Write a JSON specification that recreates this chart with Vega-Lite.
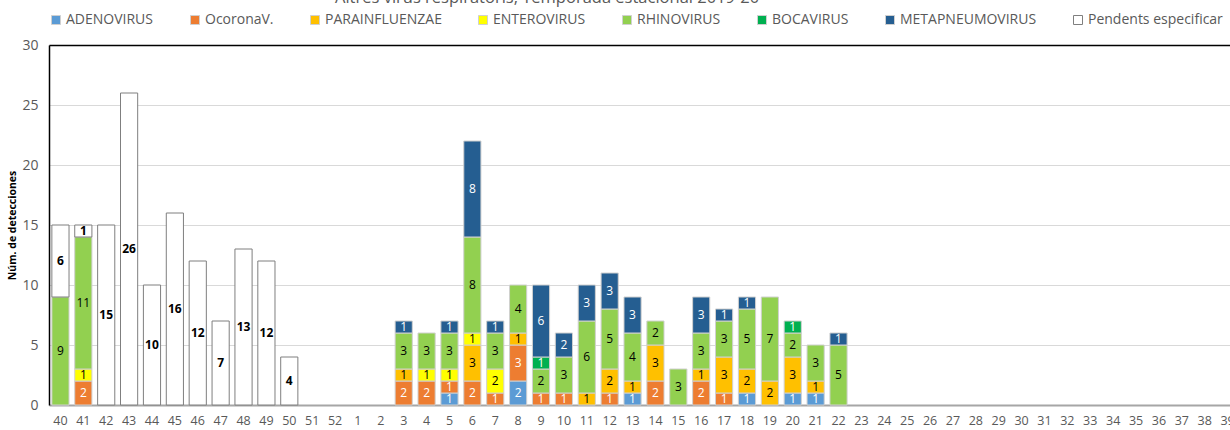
{
  "$schema": "https://vega.github.io/schema/vega-lite/v6.json",
  "autosize": {"type": "none"},
  "width": 1181,
  "height": 360,
  "padding": {"left": 49, "top": 45, "right": 0, "bottom": 25},
  "background": "white",
  "title": {"text": "Altres virus respiratoris, Temporada estacional 2019-20", "anchor": "start", "frame": "group", "dx": 286, "dy": -3, "fontSize": 16.5, "font": "Open Sans", "fontWeight": "normal", "color": "#595959"},
  "config": {"view": {"stroke": null}, "font": "Open Sans"},
  "datasets": {
    "cats": [
      {"c": "ADENOVIRUS", "k": 1}, {"c": "OcoronaV.", "k": 2}, {"c": "PARAINFLUENZAE", "k": 3}, {"c": "ENTEROVIRUS", "k": 4},
      {"c": "RHINOVIRUS", "k": 5}, {"c": "BOCAVIRUS", "k": 6}, {"c": "METAPNEUMOVIRUS", "k": 7}, {"c": "Pendents especificar", "k": 8}
    ]
  },
  "data": {"values": [
    {"w": "40", "c": "RHINOVIRUS", "v": 9}, {"w": "40", "c": "Pendents especificar", "v": 6},
    {"w": "41", "c": "OcoronaV.", "v": 2}, {"w": "41", "c": "ENTEROVIRUS", "v": 1}, {"w": "41", "c": "RHINOVIRUS", "v": 11}, {"w": "41", "c": "Pendents especificar", "v": 1},
    {"w": "42", "c": "Pendents especificar", "v": 15},
    {"w": "43", "c": "Pendents especificar", "v": 26},
    {"w": "44", "c": "Pendents especificar", "v": 10},
    {"w": "45", "c": "Pendents especificar", "v": 16},
    {"w": "46", "c": "Pendents especificar", "v": 12},
    {"w": "47", "c": "Pendents especificar", "v": 7},
    {"w": "48", "c": "Pendents especificar", "v": 13},
    {"w": "49", "c": "Pendents especificar", "v": 12},
    {"w": "50", "c": "Pendents especificar", "v": 4},
    {"w": "3", "c": "OcoronaV.", "v": 2}, {"w": "3", "c": "PARAINFLUENZAE", "v": 1}, {"w": "3", "c": "RHINOVIRUS", "v": 3}, {"w": "3", "c": "METAPNEUMOVIRUS", "v": 1},
    {"w": "4", "c": "OcoronaV.", "v": 2}, {"w": "4", "c": "ENTEROVIRUS", "v": 1}, {"w": "4", "c": "RHINOVIRUS", "v": 3},
    {"w": "5", "c": "ADENOVIRUS", "v": 1}, {"w": "5", "c": "OcoronaV.", "v": 1}, {"w": "5", "c": "ENTEROVIRUS", "v": 1}, {"w": "5", "c": "RHINOVIRUS", "v": 3}, {"w": "5", "c": "METAPNEUMOVIRUS", "v": 1},
    {"w": "6", "c": "OcoronaV.", "v": 2}, {"w": "6", "c": "PARAINFLUENZAE", "v": 3}, {"w": "6", "c": "ENTEROVIRUS", "v": 1}, {"w": "6", "c": "RHINOVIRUS", "v": 8}, {"w": "6", "c": "METAPNEUMOVIRUS", "v": 8},
    {"w": "7", "c": "OcoronaV.", "v": 1}, {"w": "7", "c": "ENTEROVIRUS", "v": 2}, {"w": "7", "c": "RHINOVIRUS", "v": 3}, {"w": "7", "c": "METAPNEUMOVIRUS", "v": 1},
    {"w": "8", "c": "ADENOVIRUS", "v": 2}, {"w": "8", "c": "OcoronaV.", "v": 3}, {"w": "8", "c": "PARAINFLUENZAE", "v": 1}, {"w": "8", "c": "RHINOVIRUS", "v": 4},
    {"w": "9", "c": "OcoronaV.", "v": 1}, {"w": "9", "c": "RHINOVIRUS", "v": 2}, {"w": "9", "c": "BOCAVIRUS", "v": 1}, {"w": "9", "c": "METAPNEUMOVIRUS", "v": 6},
    {"w": "10", "c": "OcoronaV.", "v": 1}, {"w": "10", "c": "RHINOVIRUS", "v": 3}, {"w": "10", "c": "METAPNEUMOVIRUS", "v": 2},
    {"w": "11", "c": "PARAINFLUENZAE", "v": 1}, {"w": "11", "c": "RHINOVIRUS", "v": 6}, {"w": "11", "c": "METAPNEUMOVIRUS", "v": 3},
    {"w": "12", "c": "OcoronaV.", "v": 1}, {"w": "12", "c": "PARAINFLUENZAE", "v": 2}, {"w": "12", "c": "RHINOVIRUS", "v": 5}, {"w": "12", "c": "METAPNEUMOVIRUS", "v": 3},
    {"w": "13", "c": "ADENOVIRUS", "v": 1}, {"w": "13", "c": "PARAINFLUENZAE", "v": 1}, {"w": "13", "c": "RHINOVIRUS", "v": 4}, {"w": "13", "c": "METAPNEUMOVIRUS", "v": 3},
    {"w": "14", "c": "OcoronaV.", "v": 2}, {"w": "14", "c": "PARAINFLUENZAE", "v": 3}, {"w": "14", "c": "RHINOVIRUS", "v": 2},
    {"w": "15", "c": "RHINOVIRUS", "v": 3},
    {"w": "16", "c": "OcoronaV.", "v": 2}, {"w": "16", "c": "PARAINFLUENZAE", "v": 1}, {"w": "16", "c": "RHINOVIRUS", "v": 3}, {"w": "16", "c": "METAPNEUMOVIRUS", "v": 3},
    {"w": "17", "c": "OcoronaV.", "v": 1}, {"w": "17", "c": "PARAINFLUENZAE", "v": 3}, {"w": "17", "c": "RHINOVIRUS", "v": 3}, {"w": "17", "c": "METAPNEUMOVIRUS", "v": 1},
    {"w": "18", "c": "ADENOVIRUS", "v": 1}, {"w": "18", "c": "PARAINFLUENZAE", "v": 2}, {"w": "18", "c": "RHINOVIRUS", "v": 5}, {"w": "18", "c": "METAPNEUMOVIRUS", "v": 1},
    {"w": "19", "c": "PARAINFLUENZAE", "v": 2}, {"w": "19", "c": "RHINOVIRUS", "v": 7},
    {"w": "20", "c": "ADENOVIRUS", "v": 1}, {"w": "20", "c": "PARAINFLUENZAE", "v": 3}, {"w": "20", "c": "RHINOVIRUS", "v": 2}, {"w": "20", "c": "BOCAVIRUS", "v": 1},
    {"w": "21", "c": "ADENOVIRUS", "v": 1}, {"w": "21", "c": "PARAINFLUENZAE", "v": 1}, {"w": "21", "c": "RHINOVIRUS", "v": 3},
    {"w": "22", "c": "RHINOVIRUS", "v": 5}, {"w": "22", "c": "METAPNEUMOVIRUS", "v": 1}
  ]},
  "transform": [
    {"lookup": "c", "from": {"data": {"name": "cats"}, "key": "c", "fields": ["k"]}}
  ],
  "layer": [
    {
      "mark": {"type": "bar", "strokeWidth": 1},
      "encoding": {
        "x": {"field": "w", "type": "ordinal",
          "scale": {"domain": ["40","41","42","43","44","45","46","47","48","49","50","51","52","1","2","3","4","5","6","7","8","9","10","11","12","13","14","15","16","17","18","19","20","21","22","23","24","25","26","27","28","29","30","31","32","33","34","35","36","37","38","39"], "range": [0, 1190], "paddingInner": 0.25, "paddingOuter": 0.125},
          "axis": {"title": null, "labelAngle": 0, "labelFontSize": 12.5, "labelColor": "#595959", "ticks": false, "domainColor": "#a6a6a6", "domainWidth": 2, "labelPadding": 9}},
        "y": {"field": "v", "type": "quantitative", "stack": "zero",
          "scale": {"domain": [0, 30], "nice": false},
          "axis": {"values": [0, 5, 10, 15, 20, 25, 30], "title": "Núm. de detecciones", "titleFontSize": 10.5, "titleFontWeight": "bold", "titleColor": "#000000", "titlePadding": 4,
            "labelFontSize": 14, "labelColor": "#595959", "labelPadding": 11, "ticks": false, "domainColor": "#000000", "domainWidth": 1.5,
            "grid": true, "gridColor": {"condition": {"test": "datum.value === 30", "value": "#000000"}, "value": "#d9d9d9"},
            "gridWidth": {"condition": {"test": "datum.value === 30", "value": 1.5}, "value": 1}}},
        "order": {"field": "k", "type": "quantitative", "sort": "ascending"},
        "fill": {"field": "c", "type": "nominal",
          "scale": {"domain": ["ADENOVIRUS","OcoronaV.","PARAINFLUENZAE","ENTEROVIRUS","RHINOVIRUS","BOCAVIRUS","METAPNEUMOVIRUS","Pendents especificar"],
                    "range": ["#5B9BD5","#ED7D31","#FFC000","#FFFF00","#92D050","#00B050","#255E91","#FFFFFF"]},
          "legend": {"orient": "top", "direction": "horizontal", "title": null, "symbolType": "square", "symbolSize": 81, "symbolStrokeWidth": 1, "labelFontSize": 14, "labelColor": "#595959", "columnPadding": 34, "labelOffset": 3, "offset": 18}},
        "stroke": {"field": "c", "type": "nominal",
          "scale": {"domain": ["ADENOVIRUS","OcoronaV.","PARAINFLUENZAE","ENTEROVIRUS","RHINOVIRUS","BOCAVIRUS","METAPNEUMOVIRUS","Pendents especificar"],
                    "range": ["#d0d0d0","#d0d0d0","#d0d0d0","#d0d0d0","#d0d0d0","#d0d0d0","#d0d0d0","#7f7f7f"]},
          "legend": {"orient": "top", "direction": "horizontal", "title": null, "symbolType": "square", "symbolSize": 81, "symbolStrokeWidth": 1, "labelFontSize": 14, "labelColor": "#595959", "columnPadding": 34, "labelOffset": 3, "offset": 18}}
      }
    },
    {
      "mark": {"type": "text", "fontSize": 12, "font": "Open Sans", "baseline": "middle", "fontWeight": {"expr": "datum.c === 'Pendents especificar' ? 'bold' : 'normal'"}},
      "encoding": {
        "x": {"field": "w", "type": "ordinal"},
        "y": {"field": "v", "type": "quantitative", "stack": "zero", "bandPosition": 0.5},
        "order": {"field": "k", "type": "quantitative", "sort": "ascending"},
        "color": {"field": "c", "type": "nominal",
          "scale": {"domain": ["ADENOVIRUS","OcoronaV.","PARAINFLUENZAE","ENTEROVIRUS","RHINOVIRUS","BOCAVIRUS","METAPNEUMOVIRUS","Pendents especificar"],
                    "range": ["#ffffff","#ffffff","#000000","#000000","#000000","#ffffff","#ffffff","#000000"]},
          "legend": null},
        "text": {"field": "v", "type": "quantitative"}
      }
    }
  ]
}
